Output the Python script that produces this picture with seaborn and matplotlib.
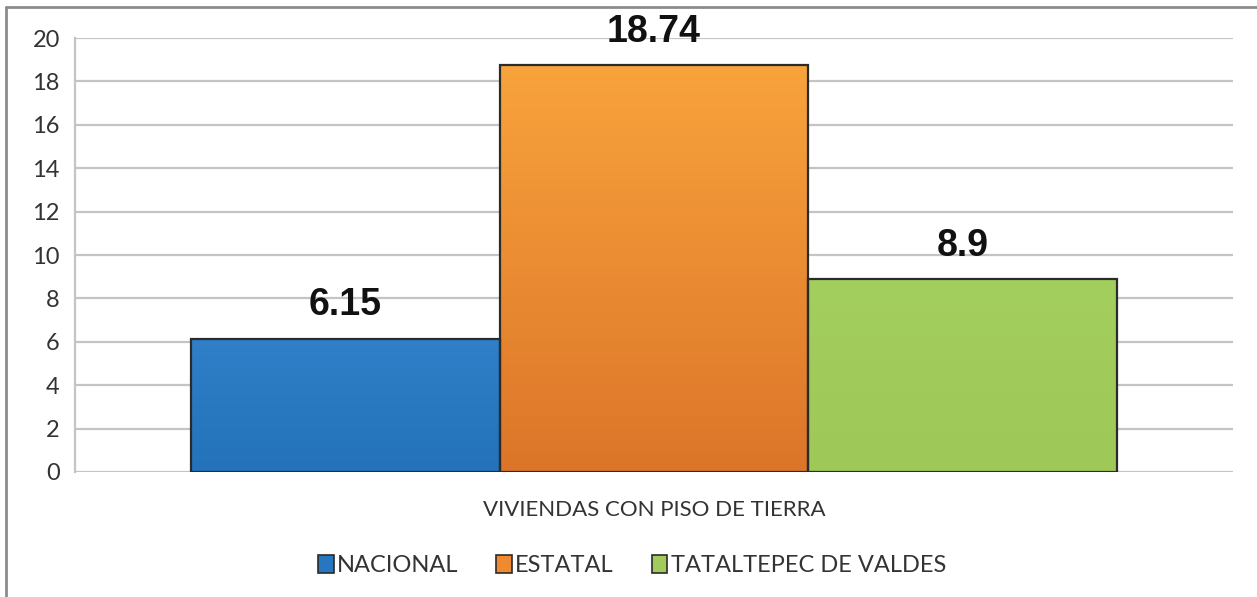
import matplotlib
matplotlib.use("Agg")
import matplotlib.pyplot as plt
import seaborn as sns
import pandas as pd
import numpy as np
from matplotlib.lines import Line2D
from matplotlib.colors import LinearSegmentedColormap

categories = ["VIVIENDAS CON PISO DE TIERRA"]
series = ["NACIONAL", "ESTATAL", "TATALTEPEC DE VALDES"]
values = [6.15, 18.74, 8.9]
value_labels = ["6.15", "18.74", "8.9"]
yticks = [0, 2, 4, 6, 8, 10, 12, 14, 16, 18, 20]
colors = ["#2777c0", "#ef8a30", "#a1cc5b"]
grad_top = ["#2f80c8", "#f8a33c", "#a3cf5e"]
grad_bottom = ["#2372ba", "#dc7529", "#9ec858"]

df = pd.DataFrame({"cat": categories * len(series), "serie": series, "valor": values})

sns.set_theme(style="white")
plt.rcParams["font.family"] = ["Lato", "DejaVu Sans"]

fig = plt.figure(figsize=(12.57, 5.97), dpi=100)
ax = fig.add_axes([0.0597, 0.2094, 0.9213, 0.7269])

sns.barplot(data=df, x="cat", y="valor", hue="serie", hue_order=series,
            palette=colors, width=0.8, edgecolor="#2b2b2b", linewidth=1.6,
            saturation=1, ax=ax, legend=True, zorder=3)

ax.set_ylim(0, 20)
ax.set_xlim(-0.5, 0.5)

# vertical gradient fill inside each bar
for cont, top, bot in zip(ax.containers, grad_top, grad_bottom):
    for bar in cont:
        x0, y0 = bar.get_x(), bar.get_y()
        w, h = bar.get_width(), bar.get_height()
        cmap = LinearSegmentedColormap.from_list("g", [bot, top])
        grad = np.linspace(0, 1, 256).reshape(-1, 1)
        im = ax.imshow(grad, cmap=cmap, aspect="auto", origin="lower",
                       extent=[x0, x0 + w, y0, y0 + h], zorder=3.5)
        im.set_clip_path(bar)
        bar.set_zorder(4)
        bar.set_facecolor("none")

ax.set_ylim(0, 20)
ax.set_xlim(-0.5, 0.5)
ax.set_yticks(yticks)
ax.set_yticklabels([str(t) for t in yticks], fontsize=17, color="#333333")
ax.tick_params(axis="y", length=0, pad=11)
ax.tick_params(axis="x", length=0, pad=20, labelsize=16, labelcolor="#333333")
ax.set_xlabel("")
ax.set_ylabel("")
ax.yaxis.grid(True, color="#c4c4c4", linewidth=1.6, zorder=0)
ax.set_axisbelow(True)
for s in ["top", "right", "bottom"]:
    ax.spines[s].set_visible(False)
ax.spines["left"].set_color("#c4c4c4")
ax.spines["left"].set_linewidth(1.6)

for cont, lab in zip(ax.containers, value_labels):
    ax.bar_label(cont, labels=[lab], padding=11, fontsize=27, fontweight="bold",
                 family=["Liberation Sans", "DejaVu Sans"], color="#111111", zorder=5)

leg = ax.legend(loc="center", bbox_to_anchor=(0.481, -0.216), ncol=3, frameon=False,
                fontsize=17, handlelength=0.65, handleheight=0.75, handletextpad=0.15,
                columnspacing=1.6, labelcolor="#333333")
for h in leg.legend_handles:
    h.set_edgecolor("#2b2b2b")
    h.set_linewidth(1.2)

# outer frame (left and top edges)
fig.add_artist(Line2D([6/1257, 6/1257], [0, 1 - 7/597], transform=fig.transFigure, color="#8c8c8c", linewidth=2))
fig.add_artist(Line2D([6/1257, 1], [1 - 7/597, 1 - 7/597], transform=fig.transFigure, color="#8c8c8c", linewidth=2))

fig.savefig("out.png", dpi=100)
